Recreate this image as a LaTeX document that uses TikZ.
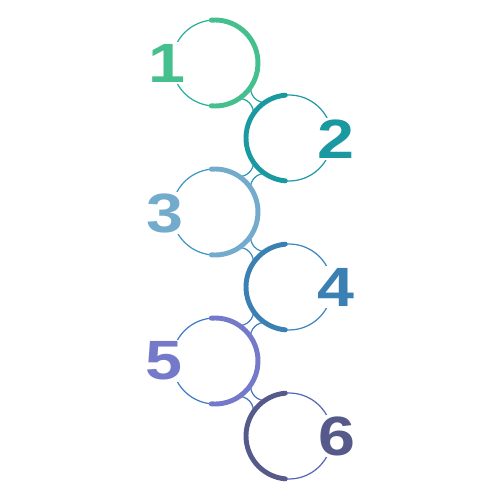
\documentclass[tikz,border=0pt]{standalone}
\usepackage{fontspec}
\usepackage{graphicx}
\usepackage{tikz}
\usetikzlibrary{positioning,calc}

\newfontfamily\digitfont{Liberation Sans}
\newcommand{\widedigit}[1]{\scalebox{1.2}[1]{#1}}

% thick arcs and numbers
\definecolor{one}{HTML}{45BF8E}
\definecolor{two}{HTML}{1A9AA0}
\definecolor{three}{HTML}{73ABCC}
\definecolor{four}{HTML}{3A80B2}
\definecolor{five}{HTML}{7479C9}
\definecolor{six}{HTML}{565A8A}
% thin rings
\definecolor{ringone}{HTML}{2AAF9B}
\definecolor{ringtwo}{HTML}{2199A8}
\definecolor{ringthree}{HTML}{3F96C4}
\definecolor{ringfour}{HTML}{3D86BE}
\definecolor{ringfive}{HTML}{3F7CC6}
\definecolor{ringsix}{HTML}{5867B6}

\begin{document}
\begin{tikzpicture}[
    x=0.02cm, y=0.02cm,
    ring/.style={circle, draw, line width=0.7pt, minimum size=1.72cm, inner sep=0pt, outer sep=0pt},
    arcline/.style={line width=2.8pt, line cap=round},
    bridge/.style={line width=0.7pt, looseness=1.1},
    numlabel/.style={fill=white, inner sep=1pt, font=\digitfont\bfseries\fontsize{31.5}{32}\selectfont}
]
\useasboundingbox (0,0) rectangle (500,500);

% Define ring positions
\node[ring, draw=ringone] (c1) at (215, 437) {};
\node[ring, draw=ringtwo] (c2) at (289, 362) {};
\node[ring, draw=ringthree] (c3) at (215, 288) {};
\node[ring, draw=ringfour] (c4) at (289, 213) {};
\node[ring, draw=ringfive] (c5) at (215, 139) {};
\node[ring, draw=ringsix] (c6) at (289, 64) {};

% Bridges between neighbouring rings
\draw[bridge, color=ringone!50!ringtwo] (c1.-31) to[out=-121, in=211] (c2.121);
\draw[bridge, color=ringone!50!ringtwo] (c1.-59) to[out=31, in=59] (c2.149);
\draw[bridge, color=ringtwo!50!ringthree] (c2.-121) to[out=149, in=121] (c3.31);
\draw[bridge, color=ringtwo!50!ringthree] (c2.-149) to[out=-59, in=-31] (c3.59);
\draw[bridge, color=ringthree!50!ringfour] (c3.-31) to[out=-121, in=211] (c4.121);
\draw[bridge, color=ringthree!50!ringfour] (c3.-59) to[out=31, in=59] (c4.149);
\draw[bridge, color=ringfour!50!ringfive] (c4.-121) to[out=149, in=121] (c5.31);
\draw[bridge, color=ringfour!50!ringfive] (c4.-149) to[out=-59, in=-31] (c5.59);
\draw[bridge, color=ringfive!50!ringsix] (c5.-31) to[out=-121, in=211] (c6.121);
\draw[bridge, color=ringfive!50!ringsix] (c5.-59) to[out=31, in=59] (c6.149);

% Thick half arcs
\draw[arcline, one] (c1.95) arc[start angle=95, end angle=-95, radius=43];
\draw[arcline, two] (c2.95) arc[start angle=95, end angle=265, radius=43];
\draw[arcline, three] (c3.95) arc[start angle=95, end angle=-95, radius=43];
\draw[arcline, four] (c4.95) arc[start angle=95, end angle=265, radius=43];
\draw[arcline, five] (c5.95) arc[start angle=95, end angle=-95, radius=43];
\draw[arcline, six] (c6.95) arc[start angle=95, end angle=265, radius=43];

% Step numbers
\node[numlabel, text=one] (n1) at (167, 437) {\widedigit{1}};
\node[numlabel, text=two] (n2) at (336, 361) {\widedigit{2}};
\node[numlabel, text=three] (n3) at (165, 287) {\widedigit{3}};
\node[numlabel, text=four] (n4) at (336, 213) {\widedigit{4}};
\node[numlabel, text=five] (n5) at (164, 139) {\widedigit{5}};
\node[numlabel, text=six] (n6) at (337, 64) {\widedigit{6}};

\end{tikzpicture}
\end{document}
